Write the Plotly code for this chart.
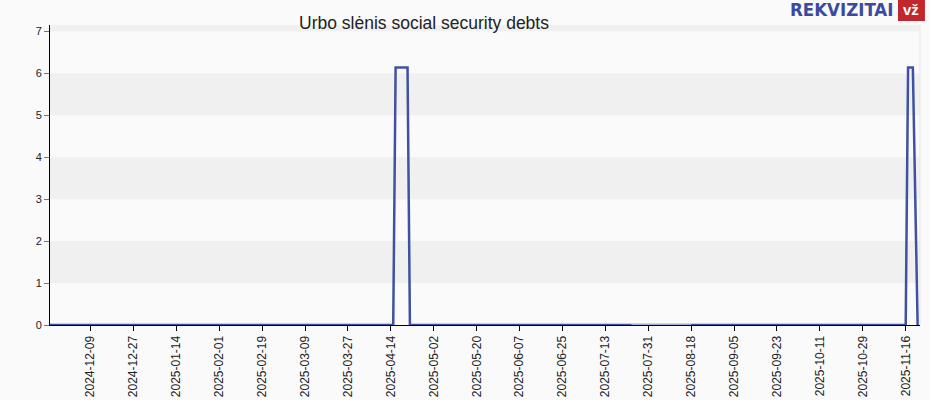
import plotly.graph_objects as go

# Data (breakpoints of the debt series)
dates = ["2024-11-22", "2025-04-15", "2025-04-16", "2025-04-21", "2025-04-22",
         "2025-07-24", None, "2025-08-18", "2025-11-16", "2025-11-17", "2025-11-19", "2025-11-21"]
values = [0, 0, 6.14, 6.14, 0, 0, None, 0, 0, 6.14, 6.14, 0]
gap_dates = ["2025-07-24", "2025-08-18"]
gap_values = [0, 0]

title = "Urbo slėnis social security debts"
y_ticks = [0, 1, 2, 3, 4, 5, 6, 7]

fig = go.Figure()
fig.add_trace(go.Scatter(x=gap_dates, y=gap_values, mode="lines",
                         line=dict(color="#a3abd6", width=3),
                         hoverinfo="skip", showlegend=False))
fig.add_trace(go.Scatter(x=dates, y=values, mode="lines", connectgaps=False,
                         line=dict(color="#3f51a3", width=2.5), showlegend=False))

# alternating bands
for lo in [1, 3, 5, 7]:
    fig.add_shape(type="rect", xref="paper", yref="y", x0=0, x1=1, y0=lo, y1=lo + 1,
                  fillcolor="#f0f0f0", line=dict(width=0), layer="below")
fig.add_shape(type="line", xref="paper", yref="paper", x0=1, x1=1, y0=0, y1=1,
              line=dict(color="#e6e6e6", width=1), layer="below")

fig.update_layout(
    width=930, height=400,
    margin=dict(l=50, r=10, t=25, b=75),
    paper_bgcolor="#fafafa", plot_bgcolor="#fafafa",
    font=dict(family="Liberation Sans, Arial, sans-serif", size=11, color="#222"),
    xaxis=dict(range=["2024-11-22", "2025-11-22"], type="date", automargin=False,
               tick0="2024-12-09", dtick=18 * 86400000, tickformat="%Y-%m-%d",
               tickangle=-90, ticks="outside", ticklen=5, tickcolor="#000",
               showline=True, linecolor="#000", linewidth=1, showgrid=False,
               zeroline=False, tickfont=dict(size=12, color="#222")),
    yaxis=dict(range=[0, 7.15], tickvals=y_ticks, ticks="outside", ticklen=5,
               automargin=False,
               tickcolor="#777", showline=True, linecolor="#000", linewidth=1,
               showgrid=False, zeroline=False, tickfont=dict(size=11, color="#222")),
    annotations=[
        dict(text=title, xref="paper", yref="paper", x=0.43, y=1.0, xanchor="center",
             yanchor="middle", yshift=2, showarrow=False,
             font=dict(size=17.5, color="#222", family="Liberation Sans, Arial, sans-serif")),
        dict(text="<b>REKVIZITAI</b>", xref="paper", yref="paper", x=0.9713, y=1.05,
             xanchor="right", yanchor="middle", showarrow=False,
             font=dict(size=18.5, color="#3a4aa0", family="Liberation Sans Narrow, DejaVu Sans Condensed, sans-serif")),
        dict(text="<b>vž</b>", xref="paper", yref="paper", x=0.9902, y=1.05,
             xanchor="center", yanchor="middle", showarrow=False,
             font=dict(size=15, color="#ffffff", family="Liberation Sans, Arial, sans-serif")),
    ],
)
fig.add_shape(type="rect", xref="paper", yref="paper", x0=0.9747, x1=1.0057, y0=1.0133, y1=1.0833,
              fillcolor="#c0282d", line=dict(width=0), layer="below")

fig.write_html("out.html", config={"displayModeBar": False},
               post_script="document.body.style.margin='0';")
